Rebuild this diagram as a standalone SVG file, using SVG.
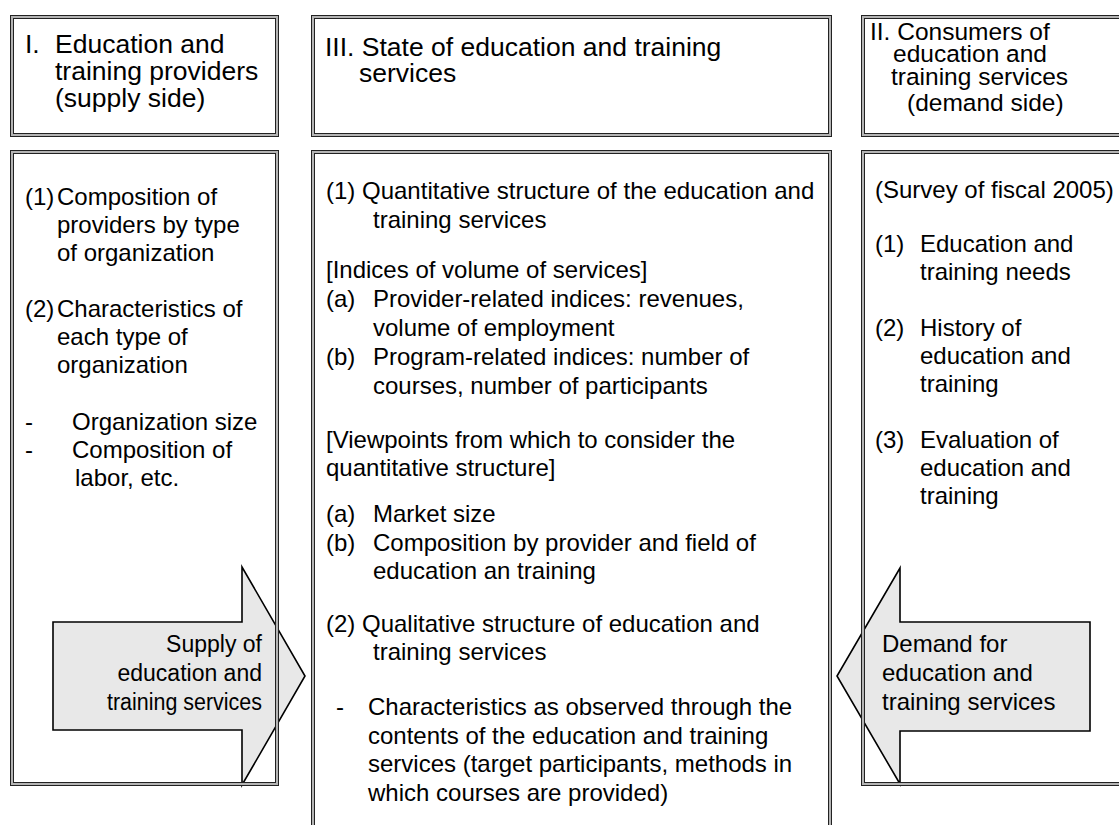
<svg xmlns="http://www.w3.org/2000/svg" width="1119" height="825" viewBox="0 0 1119 825">
<style>
text{font-family:"Liberation Sans",Arial,sans-serif;fill:#000}
.h{font-size:26.5px}
.hr{font-size:24.5px}
.b{font-size:24px}
.a{font-size:23px}
.bo{fill:none;stroke:#222;stroke-width:4}
.bi{fill:none;stroke:#b4b4b4;stroke-width:2}
.arr{fill:#e8e8e8;stroke:#000;stroke-width:1.6;stroke-linejoin:miter}
</style>
<rect x="0" y="0" width="1119" height="825" fill="#fff"/>
<g id="connectors">
<g id="supply-arrow">
<polygon class="arr" points="53,622 242,622 242,567 305,676 242,785 242,730 53,730"/>
<text class="a" x="262" y="652" text-anchor="end">Supply of</text>
<text class="a" x="262" y="681" text-anchor="end">education and</text>
<text class="a" x="262" y="710" text-anchor="end" textLength="155" lengthAdjust="spacingAndGlyphs">training services</text>
</g>
<g id="demand-arrow">
<polygon class="arr" points="1090,622 900,622 900,568 837,676 900,784 900,731 1090,731"/>
<text class="b" x="882" y="652">Demand for</text>
<text class="b" x="882" y="681">education and</text>
<text class="b" x="882" y="710">training services</text>
</g>
</g>
<g id="hdr-supply">
<rect class="bo" x="12" y="17" width="265" height="118"/><rect class="bi" x="12" y="17" width="265" height="118"/>
<text class="h" x="25" y="53">I.</text>
<text class="h" x="55" y="53">Education and</text>
<text class="h" x="55" y="80">training providers</text>
<text class="h" x="55" y="107">(supply side)</text>
</g>
<g id="body-supply">
<rect class="bo" x="12" y="152" width="265" height="632"/><rect class="bi" x="12" y="152" width="265" height="632"/>
<text class="b" x="25" y="205">(1)</text>
<text class="b" x="57" y="205">Composition of</text>
<text class="b" x="57" y="233">providers by type</text>
<text class="b" x="57" y="261">of organization</text>
<text class="b" x="25" y="317">(2)</text>
<text class="b" x="57" y="317">Characteristics of</text>
<text class="b" x="57" y="345">each type of</text>
<text class="b" x="57" y="373">organization</text>
<text class="b" x="25" y="430">-</text>
<text class="b" x="72" y="430">Organization size</text>
<text class="b" x="25" y="458">-</text>
<text class="b" x="72" y="458">Composition of</text>
<text class="b" x="75" y="486">labor, etc.</text>
</g>
<g id="hdr-state">
<rect class="bo" x="313" y="17" width="517" height="118"/><rect class="bi" x="313" y="17" width="517" height="118"/>
<text class="h" x="325" y="56">III. State of education and training</text>
<text class="h" x="359" y="82">services</text>
</g>
<g id="body-state">
<rect class="bo" x="313" y="152" width="517" height="700"/><rect class="bi" x="313" y="152" width="517" height="700"/>
<text class="b" x="326" y="199">(1) Quantitative structure of the education and</text>
<text class="b" x="373" y="228">training services</text>
<text class="b" x="326" y="278">[Indices of volume of services]</text>
<text class="b" x="326" y="307">(a)</text>
<text class="b" x="373" y="307">Provider-related indices: revenues,</text>
<text class="b" x="373" y="336">volume of employment</text>
<text class="b" x="326" y="365">(b)</text>
<text class="b" x="373" y="365">Program-related indices: number of</text>
<text class="b" x="373" y="394">courses, number of participants</text>
<text class="b" x="326" y="448">[Viewpoints from which to consider the</text>
<text class="b" x="326" y="476">quantitative structure]</text>
<text class="b" x="326" y="522">(a)</text>
<text class="b" x="373" y="522">Market size</text>
<text class="b" x="326" y="551">(b)</text>
<text class="b" x="373" y="551">Composition by provider and field of</text>
<text class="b" x="373" y="579">education an training</text>
<text class="b" x="326" y="632">(2) Qualitative structure of education and</text>
<text class="b" x="373" y="660">training services</text>
<text class="b" x="336" y="715">-</text>
<text class="b" x="368" y="715">Characteristics as observed through the</text>
<text class="b" x="368" y="744">contents of the education and training</text>
<text class="b" x="368" y="772">services (target participants, methods in</text>
<text class="b" x="368" y="801">which courses are provided)</text>
</g>
<g id="hdr-demand">
<rect class="bo" x="863" y="17" width="300" height="118"/><rect class="bi" x="863" y="17" width="300" height="118"/>
<text class="hr" x="870" y="40">II. Consumers of</text>
<text class="hr" x="893" y="62">education and</text>
<text class="hr" x="891" y="85">training services</text>
<text class="hr" x="907" y="111">(demand side)</text>
</g>
<g id="body-demand">
<rect class="bo" x="863" y="152" width="300" height="632"/><rect class="bi" x="863" y="152" width="300" height="632"/>
<text class="b" x="875" y="198">(Survey of fiscal 2005)</text>
<text class="b" x="875" y="252">(1)</text>
<text class="b" x="920" y="252">Education and</text>
<text class="b" x="920" y="280">training needs</text>
<text class="b" x="875" y="336">(2)</text>
<text class="b" x="920" y="336">History of</text>
<text class="b" x="920" y="364">education and</text>
<text class="b" x="920" y="392">training</text>
<text class="b" x="875" y="448">(3)</text>
<text class="b" x="920" y="448">Evaluation of</text>
<text class="b" x="920" y="476">education and</text>
<text class="b" x="920" y="504">training</text>
</g>
</svg>
